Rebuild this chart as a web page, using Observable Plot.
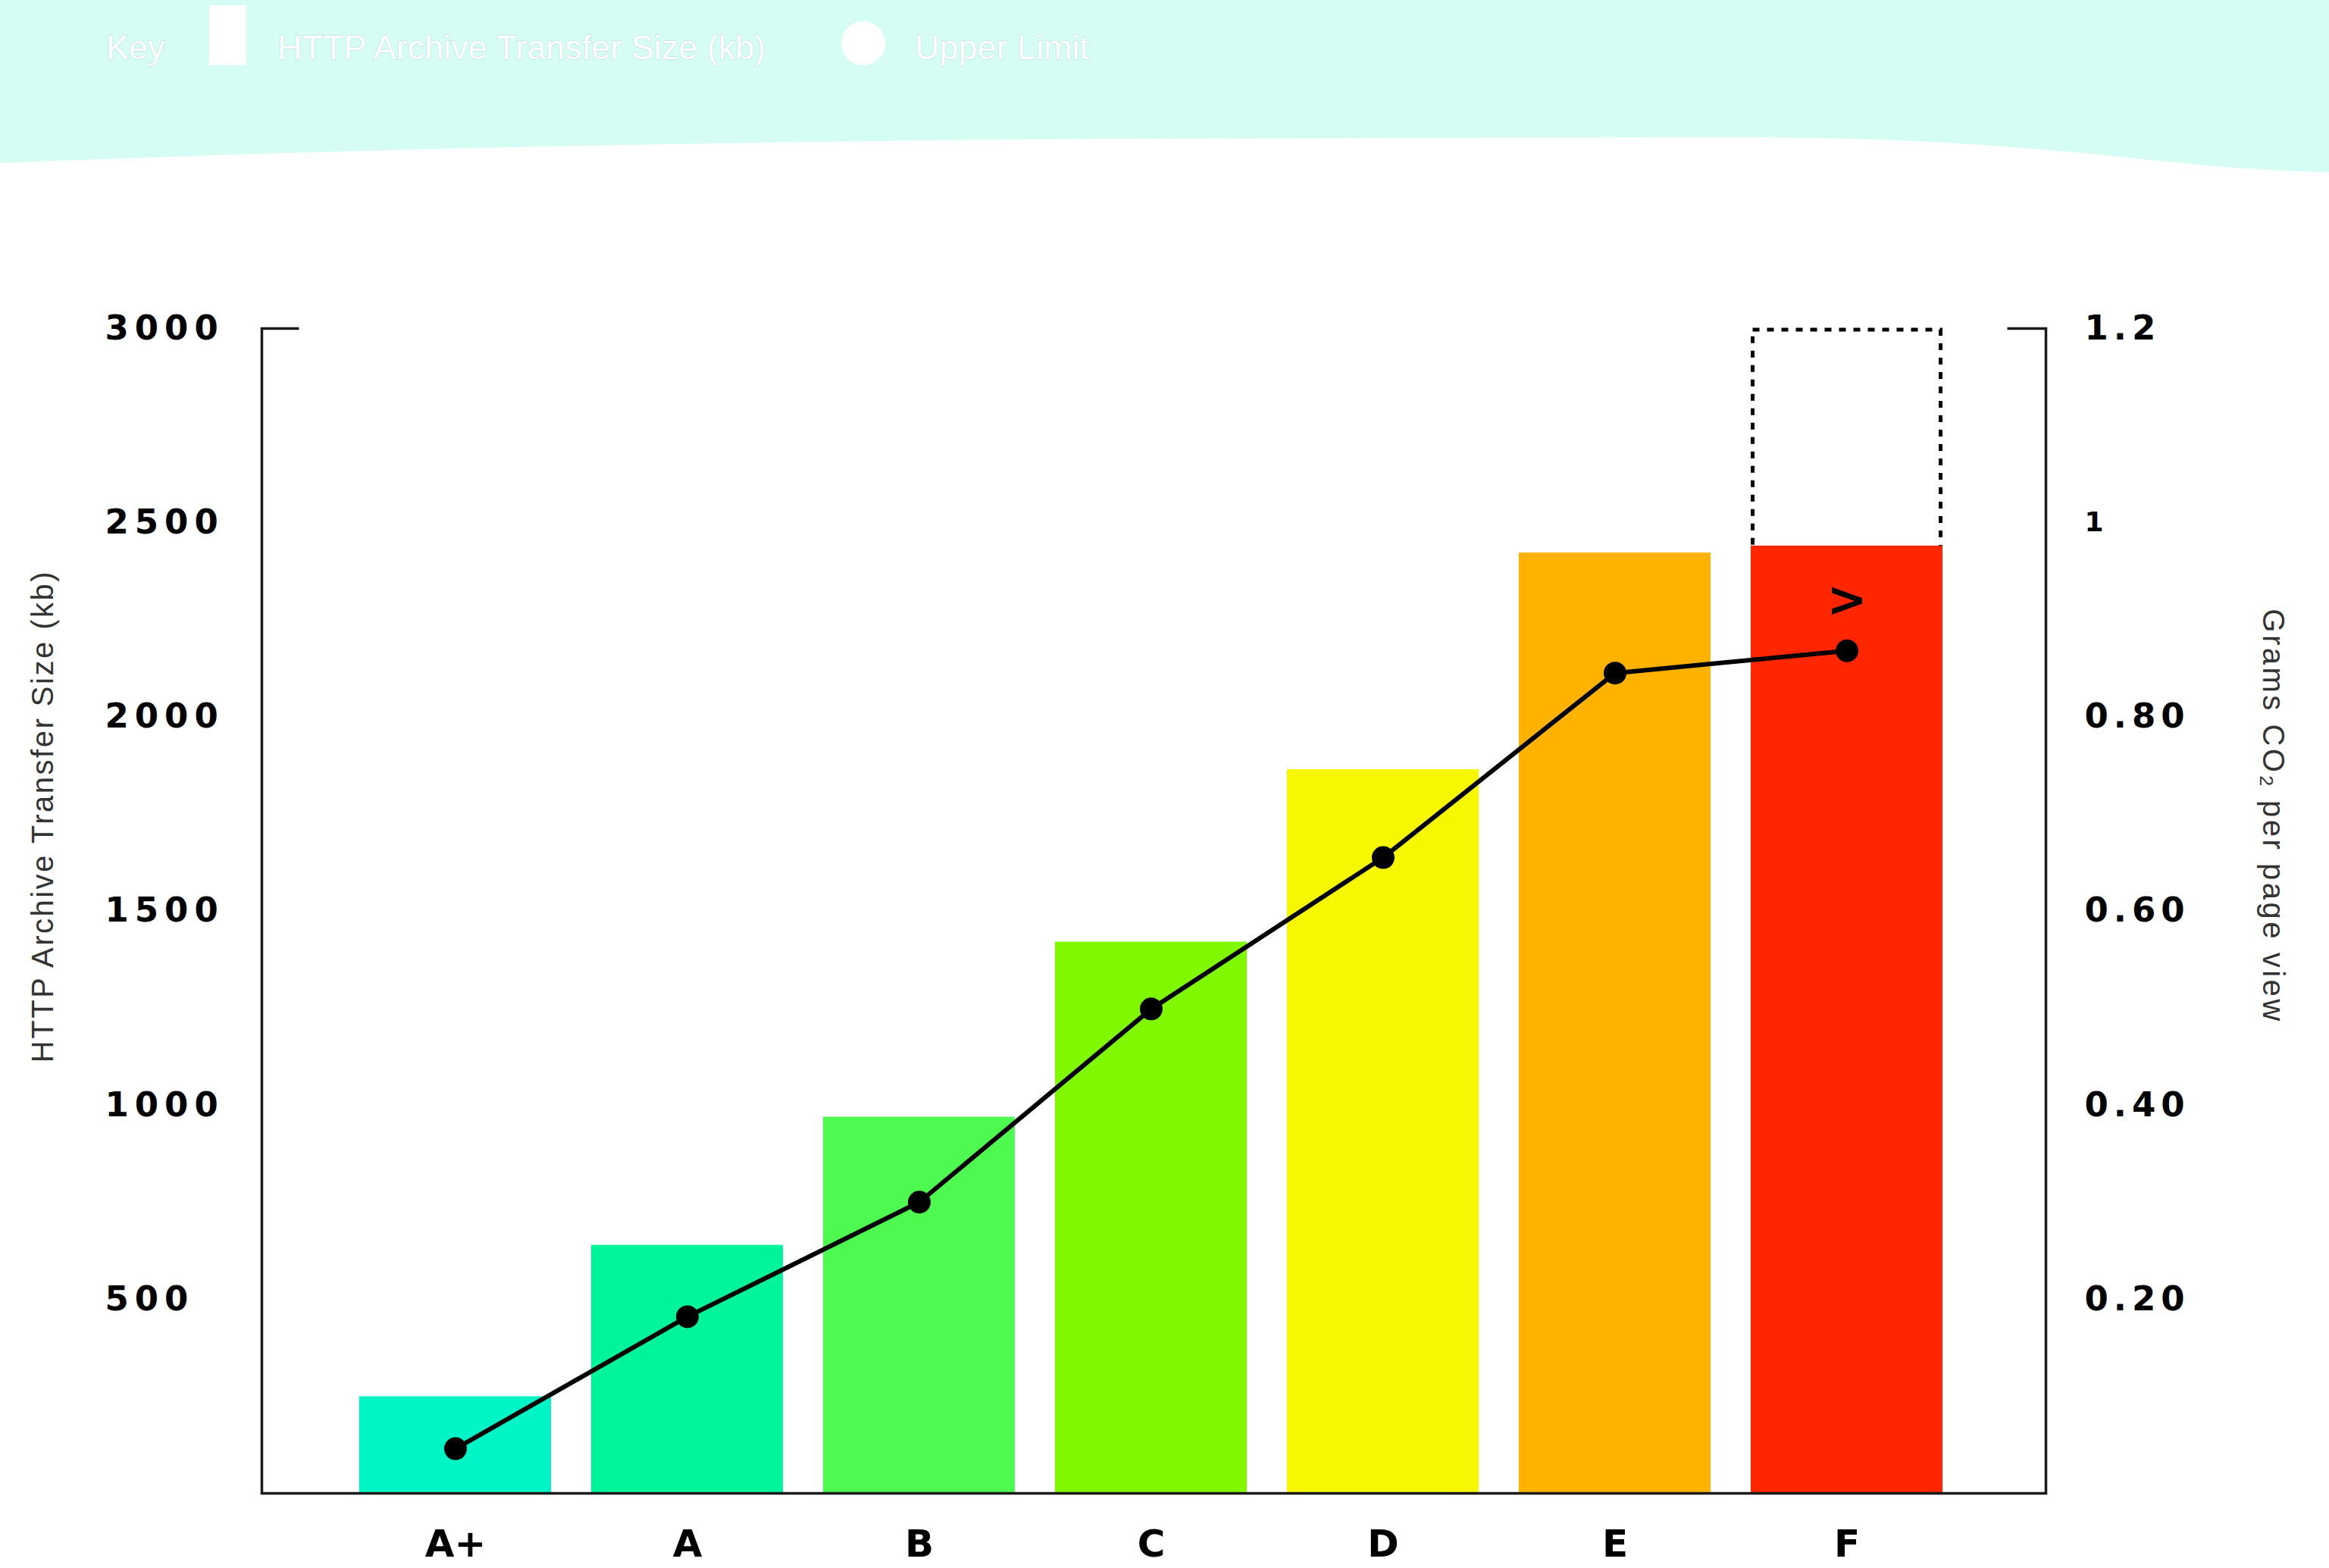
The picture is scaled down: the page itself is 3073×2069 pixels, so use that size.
<!DOCTYPE html>
<html><head><meta charset="utf-8">
<script src="https://cdn.jsdelivr.net/npm/d3@7"></script>
<script src="https://cdn.jsdelivr.net/npm/@observablehq/plot@0.6"></script>
<style>
html,body{margin:0;padding:0;background:#fff;}
body{width:3073px;height:2069px;overflow:hidden;}
#header{display:block;}
#chart svg{display:block;}
g[aria-label="y-axis tick label"] text{letter-spacing:8px;}
</style>
</head><body>
<svg id="header" width="3073" height="227"></svg>
<div id="chart"></div>
<script>
// ---- data ----
const grades = ["A+", "A", "B", "C", "D", "E", "F"];
const transferKb = [249, 639, 969, 1420, 1864, 2422, 2440];
const co2Grams = [0.046, 0.182, 0.300, 0.499, 0.655, 0.845, 0.868];
const upperLimitGrade = "F";
const upperLimitKb = 3000;
const gradeColors = ["#00f5c6", "#00f59a", "#4ffa50", "#7ff800", "#f5f800", "#ffb300", "#ff2600"];
const leftTicks = [500, 1000, 1500, 2000, 2500, 3000];
const rightTickValues = [0.2, 0.4, 0.6, 0.8, 1, 1.2];
const rightTickLabels = ["0.20", "0.40", "0.60", "0.80", "1", "1.2"];
const leftMax = 3000;
const rightMax = 1.2;
const leftTitle = "HTTP Archive Transfer Size (kb)";
const rightTitle = "Grams CO₂ per page view";
const legendLabels = ["Key", "HTTP Archive Transfer Size (kb)", "Upper Limit"];
const upperMarker = ">";

// ---- header / key ----
const hdr = d3.select("#header");
hdr.append("path")
  .attr("d", "M0,0 H3073 V227 C2950,225 2850,212 2750,202 C2550,185 2450,180 2200,181 L1500,183 C1000,186 500,195 0,215 Z")
  .attr("fill", "#d5fdf4");
const legendText = (x, t) => hdr.append("text").attr("x", x).attr("y", 78)
  .attr("font-family", "Liberation Sans, Arial, sans-serif").attr("font-size", 45)
  .attr("fill", "#fff").attr("stroke", "#b9dcd4").attr("stroke-width", 1).attr("paint-order", "stroke")
  .text(t);
legendText(140, legendLabels[0]);
hdr.append("rect").attr("x", 276).attr("y", 7).attr("width", 49).attr("height", 79).attr("fill", "#fff");
legendText(366, legendLabels[1]);
hdr.append("ellipse").attr("cx", 1139).attr("cy", 57).attr("rx", 29).attr("ry", 29).attr("fill", "#fff");
legendText(1207, legendLabels[2]);

// ---- chart ----
const W = 3073, H = 1842, mL = 345, mR = 374, mT = 206, mB = 99;
const fw = W - mL - mR, fh = H - mT - mB;
const k = leftMax / rightMax;
const rows = grades.map((g, i) => ({grade: g, kb: transferKb[i], co2: co2Grams[i]}));
const upper = [{grade: upperLimitGrade, y1: transferKb[grades.indexOf(upperLimitGrade)], y2: upperLimitKb}];
const rightTicks = rightTickValues.map((v, i) => ({v, label: rightTickLabels[i]}));

const chart = Plot.plot({
  width: W, height: H,
  marginLeft: mL, marginRight: mR, marginTop: mT, marginBottom: mB,
  style: {background: "#fff", fontFamily: "DejaVu Sans, sans-serif", color: "#000", overflow: "visible"},
  x: {domain: grades, paddingInner: 0.174, paddingOuter: 0.428, align: 0.485},
  y: {domain: [0, leftMax]},
  color: {domain: grades, range: gradeColors},
  marks: [
    Plot.barY(upper, {x: "grade", y1: "y1", y2: "y2", fill: "none", stroke: "#000", strokeWidth: 5,
      strokeDasharray: "9,10", insetLeft: 2.5, insetRight: 2.5, insetTop: 2, insetBottom: -8}),
    Plot.barY(rows, {x: "grade", y: "kb", fill: "grade"}),
    Plot.line(rows, {x: "grade", y: d => d.co2 * k, stroke: "#000", strokeWidth: 6}),
    Plot.dot(rows, {x: "grade", y: d => d.co2 * k, r: 15, fill: "#000"}),
    Plot.text(rows.filter(d => d.grade === upperLimitGrade), {x: "grade", y: d => d.co2 * k, text: () => upperMarker,
      dy: -66, fontSize: 64, fontWeight: "bold", fill: "#000"}),
    Plot.frame({stroke: "#1a1a1a", strokeWidth: 3.5, strokeDasharray: `49 ${fw - 100} ${51 + 2 * fh + fw}`}),
    Plot.axisY(leftTicks, {anchor: "left", tickSize: 0, tickPadding: 0, textAnchor: "start", dx: -207,
      fontSize: 45, fontWeight: "bold", fill: "#000", tickFormat: d => `${d}`, label: null}),
    Plot.text(rightTicks, {y: d => d.v * k, text: "label", frameAnchor: "right", textAnchor: "start", dx: 51,
      fontSize: d => d.label === "1" ? 36 : 45, fontWeight: "bold", fill: "#000"}),
    Plot.axisX({anchor: "bottom", tickSize: 0, tickPadding: 48, fontSize: 50, fontWeight: "bold", fill: "#000", label: null}),
    Plot.text([leftTitle], {frameAnchor: "left", textAnchor: "middle", text: d => d, rotate: -90, dx: -288, dy: -125,
      fontSize: 40, fontFamily: "Liberation Sans, Arial, sans-serif", fill: "#333"}),
    Plot.text([rightTitle], {frameAnchor: "right", textAnchor: "middle", text: d => d, rotate: 90, dx: 299, dy: -125,
      fontSize: 40, fontFamily: "Liberation Sans, Arial, sans-serif", fill: "#333"})
  ]
});
document.getElementById("chart").appendChild(chart);

const textGroups = chart.querySelectorAll('g[aria-label="text"]');
if (textGroups[1]) textGroups[1].style.letterSpacing = "7px";
if (textGroups[2]) textGroups[2].style.letterSpacing = "2.5px";
if (textGroups[3]) textGroups[3].style.letterSpacing = "3.5px";
</script>
</body></html>
